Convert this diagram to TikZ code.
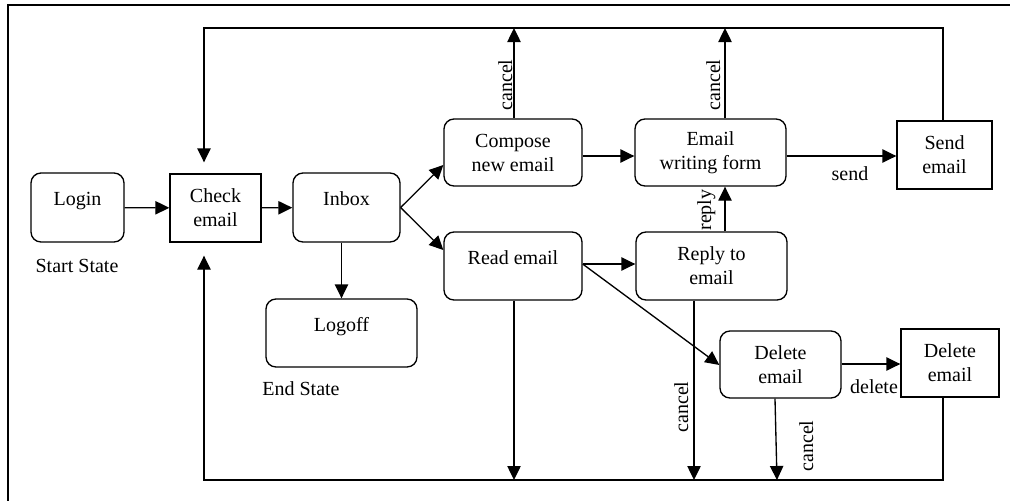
\documentclass[tikz,border=0pt]{standalone}
\usepackage{fontspec}
\setmainfont{Liberation Serif}
\usetikzlibrary{arrows.meta}
\begin{document}
\begin{tikzpicture}[x=0.75pt,y=-0.75pt,
  every node/.style={font=\fontsize{15}{18}\selectfont},
  box/.style={draw, line width=1pt, inner sep=0pt, align=center},
  rbox/.style={box, rounded corners=7.5pt},
  one/.style={text height=11pt, text depth=14pt},
  conn/.style={line width=1pt},
  arr/.style={conn, -{Triangle[length=10.5pt,width=10pt]}},
  lbl/.style={inner sep=0pt, anchor=base},
  vlbl/.style={lbl, rotate=90},
]
\useasboundingbox (0,0) rectangle (1010,501);
\draw[line width=1.8pt] (1010,5) -- (8,5) -- (8,501);

% states
\node[rbox, one, minimum width=69.75pt, minimum height=51.75pt] (login) at (77.5,207.5) {Login};
\node[box, minimum width=68.25pt, minimum height=51pt] (check) at (215.5,208) {Check\\email};
\node[rbox, one, minimum width=80.25pt, minimum height=51.75pt] (inbox) at (346.5,207.5) {Inbox};
\node[rbox, minimum width=103.5pt, minimum height=50.25pt] (compose) at (513,152.5) {Compose\\new email};
\node[rbox, minimum width=113.25pt, minimum height=50.25pt] (ewf) at (710.5,152.5) {Email\\writing form};
\node[box, minimum width=71.25pt, minimum height=51pt] (send) at (944.5,155) {Send\\email};
\node[rbox, one, minimum width=103.5pt, minimum height=51pt] (read) at (513,266) {Read email};
\node[rbox, minimum width=113.25pt, minimum height=51pt] (reply) at (711.5,266) {Reply to\\email};
\node[rbox, one, minimum width=113.25pt, minimum height=51pt] (logoff) at (341.5,333) {Logoff};
\node[rbox, minimum width=90.75pt, minimum height=50.25pt] (delr) at (780.5,364.5) {Delete\\email};
\node[box, minimum width=73.5pt, minimum height=51pt] (dels) at (950,363) {Delete\\email};

% free texts
\node[lbl] (startlbl) at (77,272) {Start State};
\node[lbl] (endlbl) at (301,395) {End State};
\node[lbl] (sendlbl) at (850,180) {send};
\node[lbl] (deletelbl) at (874,393) {delete};
\node[vlbl] (cancelA) at (512,85) {cancel};
\node[vlbl] (cancelB) at (720,85) {cancel};
\node[vlbl] (replylbl) at (711,210) {reply};
\node[vlbl] (cancelC) at (688,407) {cancel};
\node[vlbl] (cancelD) at (813,446) {cancel};

% junction coordinates
\coordinate (topL) at (204,28);
\coordinate (topA) at (514,28);
\coordinate (topB) at (725,28);
\coordinate (topR) at (943,28);
\coordinate (botL) at (204,480);
\coordinate (botA) at (514,480);
\coordinate (botB) at (694,480);
\coordinate (botC) at (777,480);
\coordinate (botR) at (943,480);

% connectors
\draw[arr] (login) -- (check);
\draw[arr] (check) -- (inbox);
\draw[arr] (inbox.east) -- (compose.west |- 0,165);
\draw[arr] (inbox.east) -- (read.west |- 0,250);
\draw[arr] (inbox.south -| logoff.north) -- (logoff.north);
\draw[arr] (compose.east |- 0,156) -- (ewf.west |- 0,156);
\draw[arr] (ewf.east |- 0,156) -- (send.west |- 0,156);
\draw[arr] (compose.north -| topA) -- (topA);
\draw[arr] (ewf.north -| topB) -- (topB);
\draw[conn] (topL) -- (topR);
\draw[arr, shorten >=8.25pt] (send.north -| topR) -- (topR) -- (topL) -- (check.north -| topL);
\draw[arr] (reply.north -| topB) -- (ewf.south -| topB);
\draw[arr] (read.east |- 0,264) -- (reply.west |- 0,264);
\draw[arr] (read.east |- 0,264) -- (delr.west |- 0,365);
\draw[arr] (read.south -| botA) -- (botA);
\draw[arr] (reply.south -| botB) -- (botB);
\draw[arr] (delr.south -| 775,0) -- (botC);
\draw[arr] (delr.east |- 0,364) -- (dels.west |- 0,364);
\draw[arr, shorten >=9.75pt] (dels.south -| botR) -- (botR) -- (botL) -- (check.south -| botL);
\end{tikzpicture}
\end{document}
